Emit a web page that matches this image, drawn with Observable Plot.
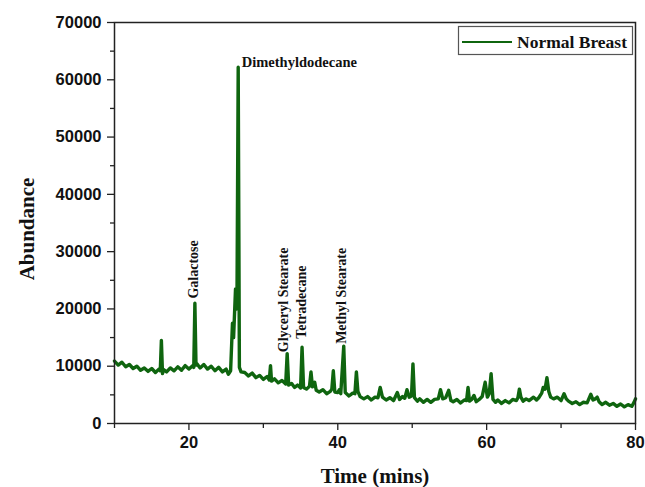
<!DOCTYPE html>
<html>
<head>
<meta charset="utf-8">
<script src="https://cdn.jsdelivr.net/npm/d3@7"></script>
<script src="https://cdn.jsdelivr.net/npm/@observablehq/plot@0.6"></script>
<style>
  html, body { margin: 0; padding: 0; background: #fff; }
  #chart { width: 645px; height: 487px; }
</style>
</head>
<body>
<div id="chart"></div>
<script>
// ---- data ----
const times = [
  10.0, 10.5, 11.0, 11.5, 12.0, 12.5, 13.0, 13.5, 14.0, 14.5, 15.0, 15.5, 16.0, 16.15, 16.3, 16.45, 16.6,
  17.0, 17.5, 18.0, 18.5, 19.0, 19.5, 20.0, 20.5, 20.65, 20.8, 20.95, 21.1, 21.5, 22.0, 22.5, 23.0, 23.5,
  24.0, 24.5, 25.0, 25.3, 25.6, 25.85, 26.0, 26.26, 26.45, 26.62, 26.78, 27.0, 27.5, 28.0, 28.5, 29.0,
  29.5, 30.0, 30.5, 30.8, 30.96, 31.1, 31.5, 32.0, 32.5, 33.0, 33.2, 33.4, 33.8, 34.2, 34.6, 35.0, 35.2,
  35.4, 35.8, 36.2, 36.4, 36.6, 36.9, 37.1, 37.5, 38.0, 38.5, 39.0, 39.2, 39.4, 39.6, 40.0, 40.2, 40.4,
  40.8, 41.0, 41.5, 42.0, 42.3, 42.5, 42.7, 43.0, 43.5, 44.0, 44.5, 45.0, 45.4, 45.7, 46.0, 46.5, 47.0,
  47.5, 48.0, 48.3, 48.7, 49.0, 49.3, 49.6, 49.9, 50.1, 50.3, 50.7, 51.0, 51.5, 52.0, 52.5, 53.0, 53.5,
  53.8, 54.1, 54.5, 54.9, 55.2, 55.5, 56.0, 56.5, 57.0, 57.3, 57.5, 57.7, 58.0, 58.3, 58.6, 59.0, 59.4,
  59.8, 60.1, 60.35, 60.6, 60.85, 61.2, 61.5, 62.0, 62.5, 63.0, 63.5, 64.0, 64.2, 64.4, 64.6, 64.9, 65.3,
  65.7, 66.3, 66.7, 67.0, 67.4, 67.6, 67.85, 68.1, 68.35, 68.6, 69.0, 69.5, 70.0, 70.4, 70.7, 71.0, 71.5,
  72.0, 72.5, 73.0, 73.5, 74.0, 74.3, 74.6, 74.85, 75.1, 75.5, 76.0, 76.5, 77.0, 77.5, 78.0, 78.5, 79.0,
  79.5, 79.8, 80.0
];
const abundance = [
  10900, 10200, 10700, 9900, 10300, 9600, 10000, 9300, 9700, 9100, 9600, 8900, 9500, 9200, 14500, 8700, 9400,
  9000, 9700, 9200, 9900, 9300, 10100, 9500, 10100, 9800, 21000, 10200, 10400, 9700, 10300, 9500, 10000, 9200,
  9800, 9000, 9500, 8600, 9200, 17500, 15000, 23500, 20000, 62200, 9800, 9000, 8900, 8300, 8800, 8000,
  8400, 7700, 8200, 7600, 10100, 7400, 7800, 7100, 7500, 6900, 12200, 6700, 7000, 6300, 6700, 6200, 13300,
  6300, 6000, 6500, 9000, 6400, 7200, 5800, 5500, 5900, 5200, 5600, 6000, 9200, 5500, 5400, 5900, 5200,
  13500, 5400, 4800, 5300, 5200, 9000, 5600, 4700, 4300, 4700, 4100, 4600, 4500, 6300, 4600, 4100, 4500,
  4000, 5400, 4200, 4700, 4400, 5900, 4600, 4800, 10400, 4500, 3900, 4300, 3700, 4200, 3700, 4200, 4300,
  5900, 4300, 4500, 5800, 4000, 3800, 4200, 3600, 4100, 4000, 6300, 3900, 4200, 4900, 3800, 4200, 4700,
  7200, 4600, 5200, 8700, 4200, 3700, 4100, 3500, 4000, 3600, 4200, 4000, 4500, 6000, 4600, 3900, 4300,
  4000, 4600, 4100, 4500, 5300, 6300, 6000, 8000, 5600, 4600, 4300, 4600, 4000, 5200, 4300, 3900, 3500,
  3800, 3300, 3700, 3600, 5100, 4100, 4300, 4600, 3800, 3300, 3700, 3200, 3500, 3000, 3400, 2900, 3300,
  3000, 3700, 4300
];

const peakNames = ["Galactose", "Glyceryl Stearate", "Tetradecane", "Methyl Stearate"];
const peakLabelTime = [20.6, 32.75, 35.12, 40.5];
const peakLabelAbundance = [21800, 12450, 14780, 13900];

const topLabel = ["Dimethyldodecane"];
const topLabelTime = [27.1];
const topLabelAbundance = [62300];

const seriesName = "Normal Breast";
const xTicks = [20, 40, 60, 80];
const xMinorTicks = [10, 30, 50, 70];
const yTicks = [0, 10000, 20000, 30000, 40000, 50000, 60000, 70000];
const yMinorTicks = [5000, 15000, 25000, 35000, 45000, 55000, 65000];

// ---- build tables ----
const trace = times.map((t, i) => ({t, v: abundance[i]}));
const peaks = peakNames.map((n, i) => ({n, t: peakLabelTime[i], v: peakLabelAbundance[i]}));
const tops = topLabel.map((n, i) => ({n, t: topLabelTime[i], v: topLabelAbundance[i]}));

const green = "#0f650f";
const serif = "'Liberation Serif', 'Times New Roman', serif";
const sans = "'Liberation Sans', Arial, sans-serif";

const chart = Plot.plot({
  width: 645,
  height: 487,
  marginLeft: 114,
  marginRight: 10,
  marginTop: 22,
  marginBottom: 64,
  style: {fontFamily: sans, background: "#fff", color: "#111"},
  x: {domain: [10, 80], label: null},
  y: {domain: [0, 70000], label: null},
  marks: [
    Plot.axisY(yTicks, {tickSize: 7, tickPadding: 6, fontSize: 16.5, fontWeight: "bold", fontFamily: sans, fill: "#111", stroke: "#222", strokeWidth: 1.3, tickFormat: d => String(d), label: null}),
    Plot.axisY(yMinorTicks, {tickSize: 4, tickFormat: () => "", stroke: "#222", strokeWidth: 1.3, label: null}),
    Plot.axisX(xTicks, {tickSize: 7, tickPadding: 6, fontSize: 16.5, fontWeight: "bold", fontFamily: sans, fill: "#111", stroke: "#222", strokeWidth: 1.3, label: null}),
    Plot.axisX(xMinorTicks, {tickSize: 5, tickFormat: () => "", stroke: "#222", strokeWidth: 1.3, label: null}),
    Plot.line(trace, {x: "t", y: "v", stroke: green, strokeWidth: 3.4, strokeLinejoin: "round"}),
    Plot.frame({stroke: "#222", strokeWidth: 1.5}),
    Plot.text(peaks, {x: "t", y: "v", text: "n", rotate: -90, textAnchor: "start", lineAnchor: "middle", fontSize: 14, fontWeight: "bold", fontFamily: serif, fill: "#111"}),
    Plot.text(tops, {x: "t", y: "v", text: "n", textAnchor: "start", lineAnchor: "bottom", fontSize: 14.5, fontWeight: "bold", fontFamily: serif, fill: "#111"}),
    Plot.text(["Time (mins)"], {frameAnchor: "bottom", dy: 59, textAnchor: "middle", text: d => d, fontSize: 21, fontWeight: "bold", fontFamily: serif, fill: "#111"}),
    Plot.text(["Abundance"], {frameAnchor: "left", dx: -87, dy: 6, rotate: -90, textAnchor: "middle", text: d => d, fontSize: 21, fontWeight: "bold", fontFamily: serif, fill: "#111"})
  ]
});

document.getElementById("chart").appendChild(chart);

// legend box inside the frame (top-right)
const svg = d3.select(chart);
const lg = svg.append("g");
lg.append("rect").attr("x", 458.5).attr("y", 26.5).attr("width", 174).attr("height", 28)
  .attr("fill", "#fff").attr("stroke", "#555").attr("stroke-width", 1.2);
lg.append("line").attr("x1", 462).attr("x2", 512).attr("y1", 42).attr("y2", 42)
  .attr("stroke", green).attr("stroke-width", 2.2);
lg.append("text").attr("x", 517).attr("y", 47.5).attr("text-anchor", "start").text(seriesName)
  .attr("font-family", serif).attr("font-weight", "bold").attr("font-size", 17.5).attr("fill", "#111");
</script>
</body>
</html>
